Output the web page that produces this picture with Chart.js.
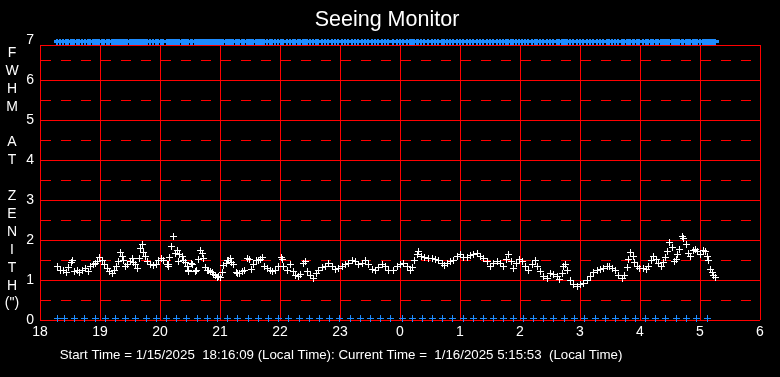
<!DOCTYPE html>
<html lang="en">
<head>
    <meta charset="UTF-8">
    <title>Seeing Monitor</title>
    <script src="https://cdn.jsdelivr.net/npm/chart.js"></script>
    <style>
        body { margin: 0; background: #000; }
        #wrap { width: 780px; height: 377px; }
    </style>
</head>
<body>
    <div id="wrap">
        <canvas id="seeingChart" width="780" height="377"></canvas>
    </div>

    <script>
        // Sample times, minutes after 18:00 local (1/15/2025)
        const sampleMinutes = [
            17, 20, 23, 26, 28, 31, 32, 34, 37, 39, 42, 45, 48, 50, 53, 55, 57, 59, 62, 64,
            67, 69, 72, 74, 76, 78, 80, 82, 83, 85, 87, 90, 92, 93, 95, 97, 99, 100, 102, 103,
            105, 107, 110, 113, 116, 118, 121, 123, 127, 128, 128, 129, 131, 133, 135, 137, 138, 139, 142, 143,
            145, 147, 148, 148, 151, 152, 155, 156, 158, 160, 162, 163, 165, 167, 168, 170, 172, 173, 175, 177,
            178, 180, 182, 183, 186, 187, 188, 190, 191, 193, 196, 197, 199, 202, 204, 207, 209, 211, 213, 216,
            218, 220, 222, 224, 227, 230, 232, 235, 238, 241, 242, 243, 247, 250, 253, 255, 258, 260, 263, 265,
            267, 270, 273, 276, 278, 282, 285, 288, 292, 295, 298, 302, 305, 308, 312, 315, 318, 322, 325, 328,
            332, 335, 338, 342, 345, 348, 353, 357, 360, 363, 367, 370, 372, 374, 377, 378, 381, 384, 388, 392,
            395, 398, 402, 404, 407, 410, 413, 417, 420, 423, 427, 430, 433, 437, 440, 443, 447, 450, 453, 457,
            460, 463, 466, 468, 471, 473, 476, 479, 482, 485, 488, 492, 495, 497, 500, 503, 507, 510, 513, 517,
            519, 522, 523, 525, 527, 530, 533, 537, 540, 543, 547, 550, 553, 557, 560, 563, 567, 569, 572, 575,
            578, 582, 584, 587, 588, 590, 593, 594, 597, 599, 603, 606, 608, 611, 613, 616, 618, 621, 623, 625,
            627, 629, 632, 634, 636, 637, 639, 642, 643, 646, 648, 650, 653, 655, 657, 660, 663, 665, 667, 668,
            670, 672, 673, 675
        ];

        // FWHM at zenith (arcsec)
        const fwhm = [
            1.33, 1.25, 1.23, 1.20, 1.32, 1.44, 1.50, 1.22, 1.25, 1.20, 1.25, 1.30, 1.22, 1.33, 1.40, 1.42, 1.46, 1.56, 1.48, 1.38,
            1.30, 1.22, 1.17, 1.25, 1.33, 1.46, 1.68, 1.58, 1.50, 1.33, 1.40, 1.46, 1.55, 1.44, 1.38, 1.30, 1.55, 1.78, 1.90, 1.68,
            1.58, 1.46, 1.40, 1.36, 1.40, 1.50, 1.55, 1.48, 1.40, 1.38, 1.33, 1.56, 1.83, 2.08, 1.67, 1.73, 1.46, 1.63, 1.60, 1.50,
            1.44, 1.35, 1.25, 1.21, 1.42, 1.38, 1.21, 1.25, 1.52, 1.75, 1.67, 1.54, 1.32, 1.25, 1.25, 1.21, 1.18, 1.15, 1.11, 1.06,
            1.10, 1.07, 1.19, 1.36, 1.42, 1.50, 1.48, 1.54, 1.43, 1.38, 1.18, 1.17, 1.17, 1.21, 1.25, 1.54, 1.52, 1.27, 1.38, 1.50,
            1.50, 1.52, 1.57, 1.35, 1.29, 1.25, 1.21, 1.25, 1.35, 1.57, 1.52, 1.33, 1.25, 1.38, 1.21, 1.12, 1.08, 1.15, 1.42, 1.46,
            1.21, 1.12, 1.04, 1.17, 1.25, 1.31, 1.33, 1.42, 1.35, 1.27, 1.29, 1.33, 1.38, 1.42, 1.50, 1.46, 1.39, 1.42, 1.48, 1.38,
            1.27, 1.23, 1.31, 1.40, 1.33, 1.25, 1.23, 1.33, 1.39, 1.42, 1.33, 1.25, 1.31, 1.50, 1.63, 1.72, 1.58, 1.56, 1.54, 1.54,
            1.52, 1.48, 1.42, 1.36, 1.42, 1.46, 1.50, 1.58, 1.64, 1.56, 1.56, 1.61, 1.64, 1.67, 1.58, 1.54, 1.46, 1.33, 1.42, 1.47,
            1.42, 1.33, 1.52, 1.63, 1.46, 1.29, 1.42, 1.52, 1.46, 1.33, 1.25, 1.38, 1.48, 1.33, 1.21, 1.10, 1.04, 1.17, 1.15, 1.08,
            1.02, 1.17, 1.33, 1.40, 1.25, 1.00, 0.90, 0.85, 0.90, 0.92, 0.98, 1.10, 1.18, 1.23, 1.27, 1.29, 1.33, 1.35, 1.29, 1.23,
            1.12, 1.04, 1.12, 1.32, 1.52, 1.68, 1.58, 1.43, 1.33, 1.29, 1.29, 1.27, 1.33, 1.50, 1.60, 1.52, 1.42, 1.35, 1.43, 1.57,
            1.71, 1.93, 1.82, 1.46, 1.52, 1.63, 1.77, 2.08, 2.04, 1.88, 1.67, 1.60, 1.73, 1.77, 1.71, 1.63, 1.75, 1.71, 1.60, 1.50,
            1.27, 1.18, 1.12, 1.07
        ];

        // blue tick marks along the bottom, minutes after 18:00
        const markMinutes = [
            17, 24, 34, 44, 55, 65, 75, 85, 95, 106, 116, 126, 136, 146, 157, 167, 177, 187, 197, 208,
            218, 228, 238, 248, 259, 269, 279, 289, 299, 310, 320, 330, 340, 350, 362, 372, 382, 392, 402, 412,
            423, 433, 443, 453, 463, 473, 483, 493, 503, 513, 524, 534, 544, 555, 565, 575, 585, 595, 605, 615,
            625, 636, 646, 656, 667
        ];

        const axisLetters = ['F', 'W', 'H', 'M', '', 'A', 'T', '', 'Z', 'E', 'N', 'I', 'T', 'H', '(")'];
        const titleText = 'Seeing Monitor';
        const footerText = 'Start Time = 1/15/2025  18:16:09 (Local Time): Current Time =  1/16/2025 5:15:53  (Local Time)';

        const FONT = '"Liberation Sans", Arial, sans-serif';
        const RED = '#ff0000';
        const BLUE = '#1e8cff';
        const toHour = m => 18 + m / 60;

        const seeingPts = sampleMinutes.map((m, i) => ({ x: toHour(m), y: fwhm[i] }));
        const topPts = sampleMinutes.map(m => ({ x: toHour(m), y: 6.94 }));
        const bottomPts = markMinutes.map(m => ({ x: toHour(m), y: 0.05 }));

        // small crisp "+" sprites, drawn with smoothing off
        function makeCross(w, h, thickH, thickV, color) {
            const c = document.createElement('canvas');
            c.width = w; c.height = h;
            const g = c.getContext('2d');
            g.fillStyle = color;
            g.fillRect(Math.floor((w - thickV) / 2), 0, thickV, h);
            g.fillRect(0, Math.floor((h - thickH) / 2), w, thickH);
            return c;
        }
        const whiteCross = makeCross(7, 7, 1, 1, '#ffffff');
        const blueCross = makeCross(7, 7, 1, 1, BLUE);
        const blueBar = makeCross(7, 6, 3, 2, BLUE);

        // frame, dashed half-unit lines, title, footer and stacked axis letters
        const decorations = {
            id: 'decorations',
            beforeDatasetsDraw(chart) {
                const { ctx, chartArea: a, scales } = chart;
                const y = scales.y;
                const yTop = Math.round(y.getPixelForValue(6.875));
                ctx.save();
                ctx.fillStyle = '#000';
                ctx.fillRect(a.left - 1, a.top - 1, a.right - a.left + 2, yTop - a.top + 1);
                ctx.strokeStyle = RED;
                ctx.lineWidth = 1;
                ctx.beginPath();
                ctx.moveTo(a.left, yTop + 0.5);
                ctx.lineTo(a.right + 1, yTop + 0.5);
                ctx.stroke();
                ctx.setLineDash([10, 10]);
                y.ticks.forEach(t => {
                    if (t.value % 1 === 0) return;
                    const py = Math.round(y.getPixelForValue(t.value)) + 0.5;
                    ctx.beginPath();
                    ctx.moveTo(a.left + 1, py);
                    ctx.lineTo(a.right, py);
                    ctx.stroke();
                });
                ctx.restore();
                ctx.imageSmoothingEnabled = false;
            },
            afterDraw(chart) {
                const ctx = chart.ctx;
                ctx.save();
                ctx.fillStyle = '#fff';
                ctx.textAlign = 'center';
                ctx.textBaseline = 'middle';
                ctx.font = '21.5px ' + FONT;
                ctx.fillText(titleText, 387, 20);
                ctx.font = '14px ' + FONT;
                axisLetters.forEach((ch, i) => {
                    if (ch) ctx.fillText(ch, 12, 53 + i * 17.9);
                });
                ctx.font = '13.3px ' + FONT;
                ctx.fillText(footerText, 341, 355);
                ctx.restore();
            }
        };

        new Chart(document.getElementById('seeingChart'), {
            type: 'scatter',
            data: {
                datasets: [
                    { data: seeingPts, pointStyle: whiteCross, clip: false },
                    { data: topPts, pointStyle: blueBar, clip: false },
                    { data: bottomPts, pointStyle: blueCross, clip: false }
                ]
            },
            options: {
                responsive: false,
                animation: false,
                layout: { padding: { top: 40, right: 20, left: 0, bottom: 0 } },
                plugins: {
                    legend: { display: false },
                    tooltip: { enabled: false },
                    title: { display: false }
                },
                scales: {
                    x: {
                        type: 'linear',
                        min: 18,
                        max: 30,
                        afterFit: s => { s.height = 57; },
                        grid: { color: RED, lineWidth: 1, drawTicks: false },
                        border: { display: false },
                        ticks: {
                            stepSize: 1,
                            color: '#fff',
                            padding: 4,
                            font: { family: FONT, size: 14 },
                            callback: v => String(v % 24)
                        }
                    },
                    y: {
                        min: 0,
                        max: 7,
                        afterFit: s => { s.width = 40; },
                        grid: {
                            color: c => (c.tick && c.tick.value % 1 === 0 && c.tick.value !== 7) ? RED : 'rgba(0,0,0,0)',
                            lineWidth: 1,
                            drawTicks: false
                        },
                        border: { display: false },
                        ticks: {
                            stepSize: 0.5,
                            color: '#fff',
                            padding: 6,
                            font: { family: FONT, size: 14 },
                            callback: v => (v % 1 === 0 ? String(v) : '')
                        }
                    }
                }
            },
            plugins: [decorations]
        });
    </script>
</body>
</html>
